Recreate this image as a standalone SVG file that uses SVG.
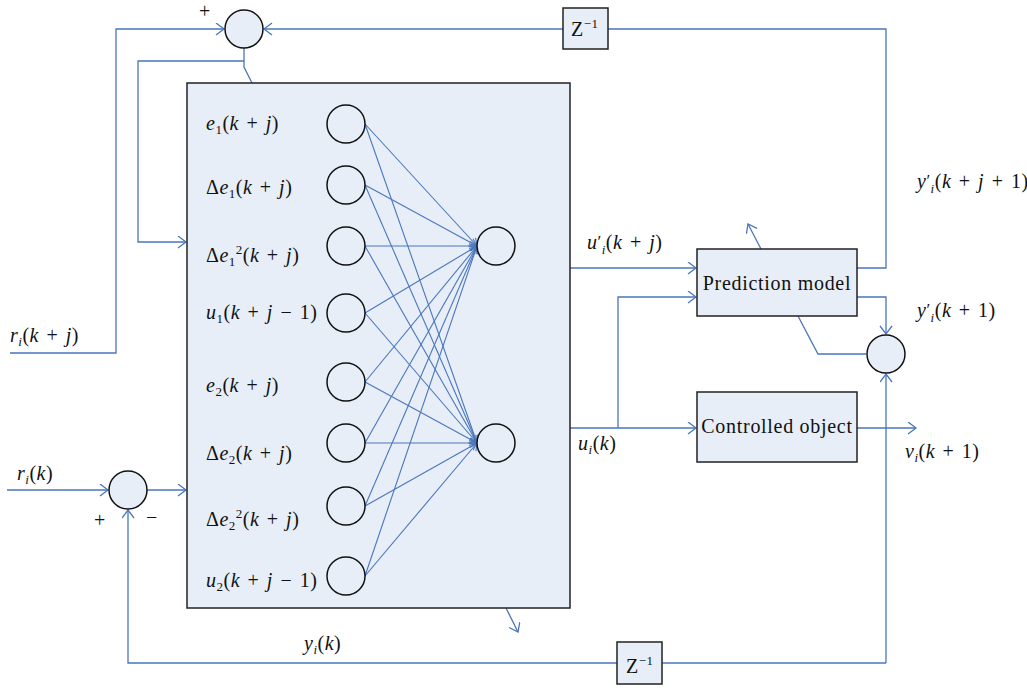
<svg xmlns="http://www.w3.org/2000/svg" width="1027" height="688" viewBox="0 0 1027 688">
<style>
.c{fill:none;stroke:#4A76BD;stroke-width:1.3}
.ca{fill:none;stroke:#4A76BD;stroke-width:1.3;marker-end:url(#arr)}
.cn{fill:none;stroke:#4A76BD;stroke-width:1.1;marker-end:url(#arr2)}
.box{fill:#E7EEF7;stroke:#222;stroke-width:1.5}
.nd{fill:#E7EEF7;stroke:#111;stroke-width:1.5}
text{font-family:"Liberation Serif","DejaVu Serif",serif;font-size:20px;fill:#111;letter-spacing:0.5px;word-spacing:2px}
.i{font-style:italic}
.s{font-size:13px}
.p{font-size:17px}
.blk{letter-spacing:0.7px;word-spacing:0}
.sg{font-size:20px}
</style>
<defs>
<marker id="arr" markerUnits="userSpaceOnUse" markerWidth="12" markerHeight="14" refX="9" refY="6.5" orient="auto">
<path d="M1,0.5 L9,6.5 L1,12.5" fill="none" stroke="#4A76BD" stroke-width="1.3"/>
</marker>
<marker id="arr2" markerUnits="userSpaceOnUse" markerWidth="10" markerHeight="12" refX="8" refY="5" orient="auto">
<path d="M1,0.5 L8,5 L1,9.5" fill="none" stroke="#4A76BD" stroke-width="1.1"/>
</marker>
</defs>
<rect width="1027" height="688" fill="#fff"/>

<g id="connectors">
<polyline class="ca" points="10,353 116,353 116,29 224,29"/>
<polyline class="c" points="244,48 244,67 252,83"/>
<polyline class="ca" points="244,61 138,61 138,242 186,242"/>
<polyline class="ca" points="563,29 264,29"/>
<polyline class="c" points="857,268 886,268 886,29 608,29"/>
<polyline class="ca" points="7,490 108,490"/>
<polyline class="ca" points="147,490 186,490"/>
<polyline class="ca" points="886,663 886,374"/>
<polyline class="c" points="886,663 662,663"/>
<polyline class="ca" points="617,663 128,663 128,510"/>
<polyline class="ca" points="515,246 569,246"/>
<polyline class="ca" points="515,443 569,443"/>
<polyline class="ca" points="570,268 696,268"/>
<polyline class="ca" points="570,428 696,428"/>
<polyline class="ca" points="618,428 618,297 696,297"/>
<polyline class="ca" points="857,428 916,428"/>
<polyline class="ca" points="857,297 886,297 886,334"/>
<polyline class="c" points="866,354 818,354 798,316"/>
<polyline class="ca" points="761,249 748,224"/>
<polyline class="ca" points="506,608 518,632"/>
</g>

<g id="nn-box">
<rect class="box" x="187" y="83" width="383" height="525"/>
</g>

<g id="nn-links">
<line class="cn" x1="365" y1="124" x2="477" y2="246"/>
<line class="cn" x1="365" y1="124" x2="477" y2="443"/>
<line class="cn" x1="365" y1="185" x2="477" y2="246"/>
<line class="cn" x1="365" y1="185" x2="477" y2="443"/>
<line class="cn" x1="365" y1="246" x2="477" y2="246"/>
<line class="cn" x1="365" y1="246" x2="477" y2="443"/>
<line class="cn" x1="365" y1="313" x2="477" y2="246"/>
<line class="cn" x1="365" y1="313" x2="477" y2="443"/>
<line class="cn" x1="365" y1="382" x2="477" y2="246"/>
<line class="cn" x1="365" y1="382" x2="477" y2="443"/>
<line class="cn" x1="365" y1="443" x2="477" y2="246"/>
<line class="cn" x1="365" y1="443" x2="477" y2="443"/>
<line class="cn" x1="365" y1="506" x2="477" y2="246"/>
<line class="cn" x1="365" y1="506" x2="477" y2="443"/>
<line class="cn" x1="365" y1="576" x2="477" y2="246"/>
<line class="cn" x1="365" y1="576" x2="477" y2="443"/>
</g>

<g id="in1"><circle class="nd" cx="346" cy="124" r="19"/><text x="206" y="130"><tspan class="i">e</tspan><tspan class="s" dy="4">1</tspan><tspan dy="-4">(</tspan><tspan class="i">k</tspan> + <tspan class="i">j</tspan>)</text></g>
<g id="in2"><circle class="nd" cx="346" cy="185" r="19"/><text x="206" y="194">Δ<tspan class="i">e</tspan><tspan class="s" dy="4">1</tspan><tspan dy="-4">(</tspan><tspan class="i">k</tspan> + <tspan class="i">j</tspan>)</text></g>
<g id="in3"><circle class="nd" cx="346" cy="246" r="19"/><text x="206" y="262">Δ<tspan class="i">e</tspan><tspan class="s" dy="4">1</tspan><tspan class="s" dy="-12">2</tspan><tspan dy="8">(</tspan><tspan class="i">k</tspan> + <tspan class="i">j</tspan>)</text></g>
<g id="in4"><circle class="nd" cx="346" cy="313" r="19"/><text x="206" y="319"><tspan class="i">u</tspan><tspan class="s" dy="4">1</tspan><tspan dy="-4">(</tspan><tspan class="i">k</tspan> + <tspan class="i">j</tspan> − 1)</text></g>
<g id="in5"><circle class="nd" cx="346" cy="382" r="19"/><text x="206" y="392"><tspan class="i">e</tspan><tspan class="s" dy="4">2</tspan><tspan dy="-4">(</tspan><tspan class="i">k</tspan> + <tspan class="i">j</tspan>)</text></g>
<g id="in6"><circle class="nd" cx="346" cy="443" r="19"/><text x="206" y="460">Δ<tspan class="i">e</tspan><tspan class="s" dy="4">2</tspan><tspan dy="-4">(</tspan><tspan class="i">k</tspan> + <tspan class="i">j</tspan>)</text></g>
<g id="in7"><circle class="nd" cx="346" cy="506" r="19"/><text x="206" y="526">Δ<tspan class="i">e</tspan><tspan class="s" dy="4">2</tspan><tspan class="s" dy="-12">2</tspan><tspan dy="8">(</tspan><tspan class="i">k</tspan> + <tspan class="i">j</tspan>)</text></g>
<g id="in8"><circle class="nd" cx="346" cy="576" r="19"/><text x="206" y="587"><tspan class="i">u</tspan><tspan class="s" dy="4">2</tspan><tspan dy="-4">(</tspan><tspan class="i">k</tspan> + <tspan class="i">j</tspan> − 1)</text></g>

<g id="hid1"><circle class="nd" cx="496" cy="246" r="19"/></g>
<g id="hid2"><circle class="nd" cx="496" cy="443" r="19"/></g>

<g id="sum-top"><circle class="nd" cx="244" cy="29" r="19"/><text class="sg" x="199" y="18">+</text></g>
<g id="sum-bottom"><circle class="nd" cx="128" cy="490" r="19"/><text class="sg" x="94" y="527">+</text><text class="sg" x="146" y="524">−</text></g>
<g id="sum-right"><circle class="nd" cx="886" cy="354" r="19"/></g>

<g id="z-top"><rect class="box" x="563" y="8" width="45" height="41"/><text x="571" y="36">Z<tspan class="s" dy="-8">−1</tspan></text></g>
<g id="z-bottom"><rect class="box" x="617" y="642" width="45" height="42"/><text x="626" y="673">Z<tspan class="s" dy="-8">−1</tspan></text></g>

<g id="prediction-model"><rect class="box" x="697" y="249" width="160" height="67"/><text class="blk" x="777" y="290" text-anchor="middle">Prediction model</text></g>
<g id="controlled-object"><rect class="box" x="697" y="392" width="160" height="70"/><text class="blk" x="777" y="433" text-anchor="middle">Controlled object</text></g>

<g id="labels">
<text x="10" y="342"><tspan class="i">r</tspan><tspan class="s i" dy="4">i</tspan><tspan dy="-4">(</tspan><tspan class="i">k</tspan> + <tspan class="i">j</tspan>)</text>
<text x="17" y="480"><tspan class="i">r</tspan><tspan class="s i" dy="4">i</tspan><tspan dy="-4">(</tspan><tspan class="i">k</tspan>)</text>
<text x="304" y="650"><tspan class="i">y</tspan><tspan class="s i" dy="4">i</tspan><tspan dy="-4">(</tspan><tspan class="i">k</tspan>)</text>
<text x="587" y="249"><tspan class="i">u</tspan><tspan class="p" dy="-2">′</tspan><tspan class="s i" dy="7">i</tspan><tspan dy="-5">(</tspan><tspan class="i">k</tspan> + <tspan class="i">j</tspan>)</text>
<text x="578" y="450"><tspan class="i">u</tspan><tspan class="s i" dy="4">i</tspan><tspan dy="-4">(</tspan><tspan class="i">k</tspan>)</text>
<text x="917" y="188"><tspan class="i">y</tspan><tspan class="p" dy="-2">′</tspan><tspan class="s i" dy="7">i</tspan><tspan dy="-5">(</tspan><tspan class="i">k</tspan> + <tspan class="i">j</tspan> + 1)</text>
<text x="917" y="317"><tspan class="i">y</tspan><tspan class="p" dy="-2">′</tspan><tspan class="s i" dy="7">i</tspan><tspan dy="-5">(</tspan><tspan class="i">k</tspan> + 1)</text>
<text x="905" y="458"><tspan class="i">v</tspan><tspan class="s i" dy="4">i</tspan><tspan dy="-4">(</tspan><tspan class="i">k</tspan> + 1)</text>
</g>
</svg>
